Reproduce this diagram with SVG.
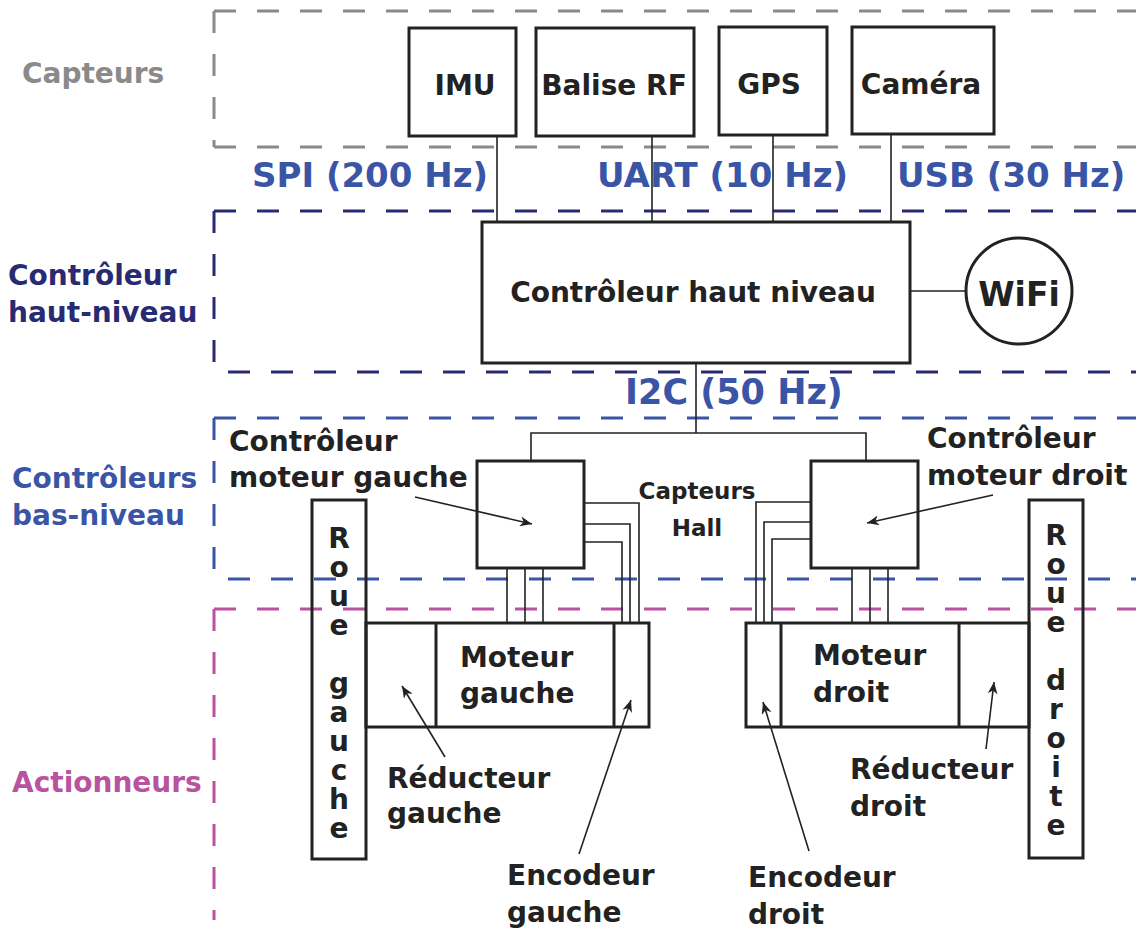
<svg xmlns="http://www.w3.org/2000/svg" width="1136" height="935" viewBox="0 0 1136 935">
<defs>
<style>
text{font-family:"DejaVu Sans","Verdana",sans-serif;font-weight:bold;}
.t{fill:#222;font-size:28px;}
.lbl{fill:#3a55a6;font-size:34px;}
.vert{writing-mode:vertical-rl;text-orientation:upright;letter-spacing:-4px;}
.box{fill:#fff;stroke:#222;stroke-width:3;}
.open{fill:none;stroke:#222;stroke-width:3;}
.wire{fill:none;stroke:#222;stroke-width:1.6;}
.arr{fill:none;stroke:#222;stroke-width:1.6;marker-end:url(#ah);}
.dash{fill:none;stroke-width:3;stroke-dasharray:22 21;}
</style>
<marker id="ah" viewBox="0 0 12 10" refX="12" refY="5" markerWidth="13" markerHeight="10" markerUnits="userSpaceOnUse" orient="auto">
<path d="M0,0 L12,5 L0,10 L3.5,5 Z" fill="#222"/>
</marker>
</defs>

<g id="regions">
<g id="region-capteurs">
<path class="dash" stroke="#8a8a8a" d="M214 11 H1140 M214 11 V147 M214 147 H1140"/>
<text x="22" y="83" style="fill:#8a8a8a;font-size:28px">Capteurs</text>
</g>
<g id="region-haut">
<path class="dash" stroke="#282a72" d="M214 211 H1140 M214 211 V365 M228 372 H1140"/>
<text x="8" y="285" style="fill:#282a72;font-size:28px">Contrôleur</text>
<text x="8" y="322" style="fill:#282a72;font-size:28px">haut-niveau</text>
</g>
<g id="region-bas">
<path class="dash" stroke="#3a55a6" d="M214 418 H1140 M214 418 V572 M228 579 H1140"/>
<text x="12" y="488" style="fill:#3a55a6;font-size:28px">Contrôleurs</text>
<text x="12" y="525" style="fill:#3a55a6;font-size:28px">bas-niveau</text>
</g>
<g id="region-act">
<path class="dash" stroke="#b9529f" d="M214 609 H1140 M214 609 V920"/>
<text x="12" y="792" style="fill:#b9529f;font-size:28px">Actionneurs</text>
</g>
</g>

<g id="labels">
<text class="lbl" x="252" y="187">SPI (200 Hz)</text>
<text class="lbl" x="597" y="187">UART (10 Hz)</text>
<text class="lbl" x="897" y="187">USB (30 Hz)</text>
<text class="lbl" x="625" y="404" style="font-size:35px">I2C (50 Hz)</text>
<text class="t" x="697" y="499" text-anchor="middle" style="font-size:23px">Capteurs</text>
<text class="t" x="697" y="536" text-anchor="middle" style="font-size:23px">Hall</text>
</g>

<g id="imu"><rect class="box" x="409" y="28" width="107" height="108"/><text class="t" x="465" y="95" text-anchor="middle">IMU</text></g>
<g id="balise"><rect class="box" x="536" y="28" width="158" height="108"/><text class="t" x="614" y="95" text-anchor="middle">Balise RF</text></g>
<g id="gps"><rect class="box" x="719" y="27" width="108" height="108"/><text class="t" x="769" y="94" text-anchor="middle">GPS</text></g>
<g id="camera"><rect class="box" x="852" y="27" width="142" height="107"/><text class="t" x="921" y="94" text-anchor="middle">Caméra</text></g>

<g id="ctrl-haut"><rect class="box" x="482" y="222" width="428" height="141"/><text class="t" x="693" y="302" text-anchor="middle">Contrôleur haut niveau</text></g>
<g id="wifi"><circle class="box" cx="1019" cy="291" r="53"/><text class="t" x="1019" y="306" text-anchor="middle" style="font-size:33px">WiFi</text></g>

<g id="ctrl-gauche">
<rect class="box" x="477" y="461" width="107" height="107"/>
<text class="t" x="229" y="451">Contrôleur</text>
<text class="t" x="229" y="487">moteur gauche</text>
</g>
<g id="ctrl-droit">
<rect class="box" x="811" y="461" width="107" height="107"/>
<text class="t" x="927" y="448">Contrôleur</text>
<text class="t" x="927" y="485">moteur droit</text>
</g>

<g id="moteur-gauche">
<rect class="box" x="366" y="623" width="283" height="104"/>
<line class="open" x1="436" y1="623" x2="436" y2="727"/>
<line class="open" x1="614" y1="623" x2="614" y2="727"/>
<text class="t" x="460" y="667">Moteur</text>
<text class="t" x="460" y="703">gauche</text>
</g>
<g id="moteur-droit">
<rect class="box" x="746" y="623" width="283" height="104"/>
<line class="open" x1="781" y1="623" x2="781" y2="727"/>
<line class="open" x1="959" y1="623" x2="959" y2="727"/>
<text class="t" x="813" y="665">Moteur</text>
<text class="t" x="813" y="702">droit</text>
</g>

<g id="roue-gauche">
<rect class="open" x="312" y="500" width="54" height="359"/>
<text class="t vert" x="339" y="522">Roue gauche</text>
</g>
<g id="roue-droite">
<rect class="open" x="1029" y="500" width="54" height="358"/>
<text class="t vert" x="1056" y="519">Roue droite</text>
</g>

<g id="reducteur-gauche-lbl"><text class="t" x="387" y="788">Réducteur</text><text class="t" x="387" y="823">gauche</text></g>
<g id="encodeur-gauche-lbl"><text class="t" x="507" y="885">Encodeur</text><text class="t" x="507" y="922">gauche</text></g>
<g id="reducteur-droit-lbl"><text class="t" x="850" y="779">Réducteur</text><text class="t" x="850" y="816">droit</text></g>
<g id="encodeur-droit-lbl"><text class="t" x="748" y="887">Encodeur</text><text class="t" x="748" y="924">droit</text></g>

<g id="connectors">
<line class="wire" x1="497" y1="136" x2="497" y2="222"/>
<line class="wire" x1="652" y1="136" x2="652" y2="222"/>
<line class="wire" x1="773" y1="135" x2="773" y2="222"/>
<line class="wire" x1="891" y1="134" x2="891" y2="222"/>
<line class="wire" x1="911" y1="291" x2="966" y2="291"/>
<path class="wire" d="M696 364 V433 M531 460 V433 H866 V460"/>
<path class="wire" d="M507 569 V622 M525 569 V622 M543 569 V622"/>
<path class="wire" d="M852 569 V622 M870 569 V622 M888 569 V622"/>
<path class="wire" d="M585 503 H639 V622 M585 524 H630 V622 M585 542 H622 V622"/>
<path class="wire" d="M810 502 H756 V622 M810 522 H764 V622 M810 539 H772 V622"/>
<line class="arr" x1="415" y1="497" x2="532" y2="524"/>
<line class="arr" x1="993" y1="495" x2="867" y2="523"/>
<line class="arr" x1="445" y1="757" x2="402" y2="686"/>
<line class="arr" x1="579" y1="854" x2="631" y2="700"/>
<line class="arr" x1="809" y1="851" x2="763" y2="702"/>
<line class="arr" x1="986" y1="749" x2="994" y2="682"/>
</g>
</svg>
